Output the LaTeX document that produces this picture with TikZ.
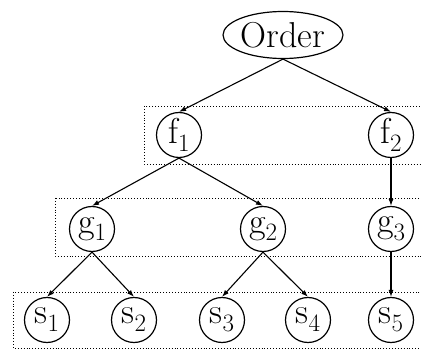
\documentclass[tikz,border=0pt]{standalone}
\usetikzlibrary{shapes.geometric,arrows.meta}
\newcommand{\sbx}[2]{#1\raisebox{-0.22em}{\fontsize{25}{25}\selectfont #2}}
\begin{document}
\begin{tikzpicture}[x=1pt,y=-1pt,
  every node/.style={font=\fontsize{36}{42}\selectfont},
  nd/.style={draw,circle,line width=1.2pt,minimum size=45pt,inner sep=0pt},
  ord/.style={draw,ellipse,line width=1.2pt,minimum width=120pt,minimum height=47pt,inner sep=0pt},
  edge/.style={line width=1.1pt,-{Latex[length=7pt,width=5pt]}},
  grp/.style={dotted,line width=0.9pt}]
\useasboundingbox (0,0) rectangle (421,350);
\clip (0,0) rectangle (421,350);
\draw[grp] (144,106) rectangle (440,164);
\draw[grp] (55,198) rectangle (440,256);
\draw[grp] (13,292) rectangle (440,348);
\node[ord] (o) at (283,35) {Order};
\node[nd] (f1) at (179,135) {\sbx{f}{1}};
\node[nd] (f2) at (391,135) {\sbx{f}{2}};
\node[nd] (g1) at (92,229) {\sbx{g}{1}};
\node[nd] (g2) at (263,229) {\sbx{g}{2}};
\node[nd] (g3) at (391,229) {\sbx{g}{3}};
\node[nd] (s1) at (47,320) {\sbx{s}{1}};
\node[nd] (s2) at (134,320) {\sbx{s}{2}};
\node[nd] (s3) at (222,320) {\sbx{s}{3}};
\node[nd] (s4) at (308,320) {\sbx{s}{4}};
\node[nd] (s5) at (391,320) {\sbx{s}{5}};
\draw[edge] (o.south) -- (f1.north);
\draw[edge] (o.south) -- (f2.north);
\draw[edge] (f1.south) -- (g1.north);
\draw[edge] (f1.south) -- (g2.north);
\draw[edge] (f2.south) -- (g3.north);
\draw[edge] (g1.south) -- (s1.north);
\draw[edge] (g1.south) -- (s2.north);
\draw[edge] (g2.south) -- (s3.north);
\draw[edge] (g2.south) -- (s4.north);
\draw[edge] (g3.south) -- (s5.north);
\end{tikzpicture}
\end{document}
